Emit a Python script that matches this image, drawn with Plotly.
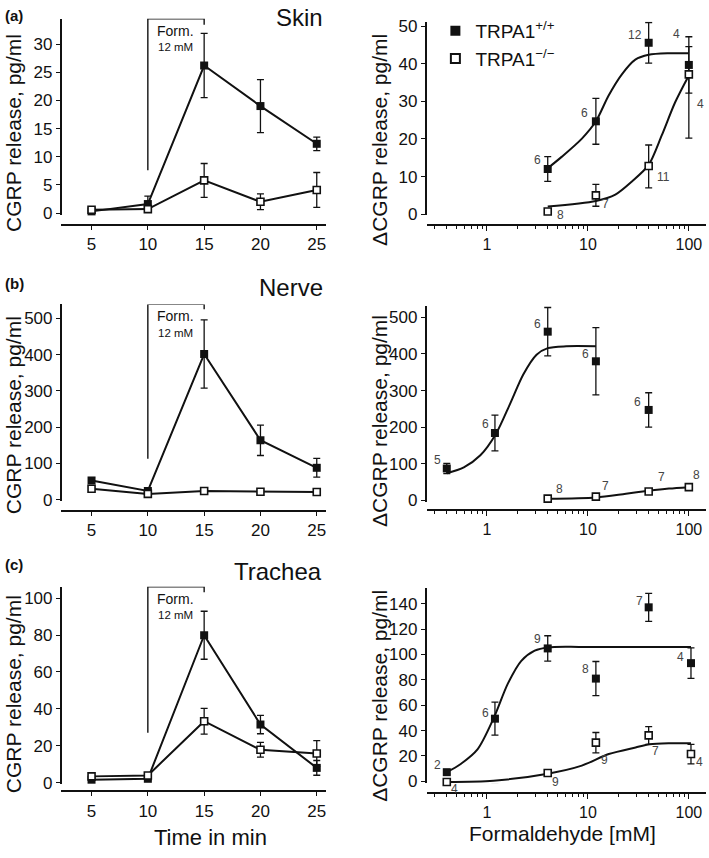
import math
import plotly.graph_objects as go

W, H = 709, 858
FONT = "Arial, Liberation Sans, sans-serif"
INK = "#111111"

# ---------------- data ----------------
time_min = [5, 10, 15, 20, 25]

skin_wt = [0.3, 1.6, 26.2, 19.0, 12.3]
skin_wt_err = [0.2, 1.4, 5.7, 4.7, 1.2]
skin_ko = [0.6, 0.7, 5.8, 2.0, 4.1]
skin_ko_err = [0.3, 0.4, 3.0, 1.4, 3.1]

nerve_wt = [53, 24, 402, 164, 88]
nerve_wt_err = [8, 5, 94, 42, 26]
nerve_ko = [30, 16, 24, 22, 21]
nerve_ko_err = [4, 3, 5, 4, 4]

trach_wt = [1.6, 2.1, 79.9, 31.5, 8.0]
trach_wt_err = [0.5, 0.8, 13, 5, 4]
trach_ko = [3.4, 3.9, 33.3, 17.8, 15.8]
trach_ko_err = [0.8, 0.8, 7, 4, 7]

form_start, form_end = 10, 15

skin_conc = [4, 12, 40, 100]
skin_wt_d = [12.0, 24.7, 45.6, 39.7]
skin_wt_d_err = [3.3, 6.1, 5.4, 7.5]
skin_ko_d = [0.7, 5.0, 12.8, 37.2]
skin_ko_d_err_up = [0.3, 2.9, 5.6, 7.4]
skin_ko_d_err_dn = [0.3, 2.9, 5.8, 17.0]
skin_wt_n = [6, 6, 12, 4]
skin_ko_n = [8, 7, 11, 4]

nerve_conc_wt = [0.4, 1.2, 4, 12, 40]
nerve_wt_d = [87, 184, 461, 380, 247]
nerve_wt_d_err = [14, 49, 66, 92, 47]
nerve_conc_ko = [4, 12, 40, 100]
nerve_ko_d = [4.5, 10, 24, 36]
nerve_ko_d_err = [2, 3, 4, 4]
nerve_wt_n = [5, 6, 6, 6, 6]
nerve_ko_n = [8, 7, 7, 8]

trach_conc = [0.4, 1.2, 4, 12, 40, 105]
trach_wt_d = [7.2, 49.4, 104.8, 81, 137.2, 93.2]
trach_wt_d_err = [1.5, 13, 10, 13.5, 11, 12]
trach_ko_d = [-0.5, -3.9, 6.5, 30.5, 36.2, 21.5]
trach_ko_d_err = [1, 1.5, 1.5, 8, 7, 7.7]
trach_wt_n = [2, 6, 9, 8, 7, 4]
trach_ko_n = [4, 4, 9, 9, 7, 4]

# fitted curves
skin_fit_wt_x = [4, 5.53, 8.72, 12, 16, 21.7, 29.5, 40, 63, 100]
skin_fit_wt_y = [12.2, 15.3, 20.1, 24.7, 31.5, 37.2, 41.1, 42.4, 42.8, 42.8]
skin_fit_ko_x = [4, 12, 18.7, 27.3, 40, 54, 73, 100]
skin_fit_ko_y = [2.0, 3.5, 5.2, 8.7, 13.1, 21, 29.7, 36.9]
nerve_fit_wt_x = [0.4, 0.59, 0.86, 1.23, 1.69, 2.29, 3.1, 4, 6.1, 12]
nerve_fit_wt_y = [74, 90, 123, 182, 263, 344, 398, 416, 421, 421]
nerve_fit_ko_x = [4, 12, 23.8, 40, 63.5, 100]
nerve_fit_ko_y = [4.5, 8, 18, 26, 32, 36]
trach_fit_wt_x = [0.4, 0.55, 0.81, 1.16, 1.61, 2.19, 2.97, 4, 8.7, 105]
trach_fit_wt_y = [7.2, 13.7, 25.4, 49.4, 77, 95, 103, 105.6, 106, 106]
trach_fit_ko_x = [0.4, 1.16, 4, 8.7, 16.1, 29.7, 41, 64, 105]
trach_fit_ko_y = [-0.5, 0.5, 6, 12.4, 21.5, 26.7, 29.2, 30, 30]

# ---------------- layout geometry (pixels) ----------------
def xdom(a, b):
    return [a / W, b / W]

def ydom(top, bot):
    return [1 - bot / H, 1 - top / H]

LEFT_X = (61, 326)
LEFT_XRANGE = [2.28, 25.78]
RIGHT_X = (428, 707)
RIGHT_XRANGE = [-0.59, 2.17]

panels = {
    1: dict(xd=LEFT_X, xr=LEFT_XRANGE, yd=(15, 214), yr=[-0.3, 34.5], xpos=224, ypos=61, dt=5, log=False),
    2: dict(xd=RIGHT_X, xr=RIGHT_XRANGE, yd=(18, 214.5), yr=[-0.3, 51.2], xpos=224, ypos=426.5, dt=10, log=True),
    3: dict(xd=LEFT_X, xr=LEFT_XRANGE, yd=(305, 505), yr=[-4.6, 539], xpos=514.3, ypos=61, dt=100, log=False),
    4: dict(xd=RIGHT_X, xr=RIGHT_XRANGE, yd=(306.7, 505.8), yr=[-5, 531], xpos=513.3, ypos=426.5, dt=100, log=True),
    5: dict(xd=LEFT_X, xr=LEFT_XRANGE, yd=(591.7, 792.5), yr=[-1, 106.2], xpos=799.3, ypos=61, dt=20, log=False),
    6: dict(xd=RIGHT_X, xr=RIGHT_XRANGE, yd=(593.3, 791.2), yr=[-1.5, 152.2], xpos=800.7, ypos=426.5, dt=20, log=True),
}

fig = go.Figure()

def ax(n, kind):
    s = "" if n == 1 else str(n)
    return kind + s

def add_series(n, x, y, err, filled, err_minus=None):
    ey = dict(type="data", array=err, visible=True, color=INK, thickness=1.3, width=3.5)
    if err_minus is not None:
        ey["symmetric"] = False
        ey["arrayminus"] = err_minus
    fig.add_trace(go.Scatter(
        x=x, y=y, mode="markers", xaxis=ax(n, "x"), yaxis=ax(n, "y"),
        error_y=ey, cliponaxis=False, showlegend=False,
        marker=dict(symbol="square", size=8 if filled else 7,
                    color=INK if filled else "white",
                    line=dict(color=INK, width=0 if filled else 1.6)),
    ))

def add_line(n, x, y, spline=False):
    fig.add_trace(go.Scatter(
        x=x, y=y, mode="lines", xaxis=ax(n, "x"), yaxis=ax(n, "y"),
        line=dict(color=INK, width=2, shape="spline" if spline else "linear", smoothing=0.8),
        showlegend=False, hoverinfo="skip",
    ))

# time-course panels
for n, wt, wte, ko, koe in [
    (1, skin_wt, skin_wt_err, skin_ko, skin_ko_err),
    (3, nerve_wt, nerve_wt_err, nerve_ko, nerve_ko_err),
    (5, trach_wt, trach_wt_err, trach_ko, trach_ko_err),
]:
    add_line(n, time_min, wt)
    add_line(n, time_min, ko)
    add_series(n, time_min, wt, wte, True)
    add_series(n, time_min, ko, koe, False)

# formaldehyde application brackets
brackets = {1: (7.6, 33.45), 3: (113, 525.8), 5: (27, 103.2)}
for n, (low, tick_end) in brackets.items():
    top = panels[n]["yr"][1]
    fig.add_trace(go.Scatter(
        x=[form_start, form_start, form_end, form_end], y=[low, top, top, tick_end],
        mode="lines", xaxis=ax(n, "x"), yaxis=ax(n, "y"),
        line=dict(color=INK, width=1.4), showlegend=False, hoverinfo="skip", cliponaxis=False,
    ))
    mid = (form_start + form_end) / 2
    fig.add_annotation(x=mid, y=top, xref=ax(n, "x"), yref=ax(n, "y"), text="Form.",
                       showarrow=False, yshift=-12, font=dict(size=14, color=INK, family=FONT))
    fig.add_annotation(x=mid, y=top, xref=ax(n, "x"), yref=ax(n, "y"), text="12 mM",
                       showarrow=False, yshift=-28.5, font=dict(size=11.5, color=INK, family=FONT))

# concentration-response panels
add_line(2, skin_fit_wt_x, skin_fit_wt_y, True)
add_line(2, skin_fit_ko_x, skin_fit_ko_y, True)
add_series(2, skin_conc, skin_wt_d, skin_wt_d_err, True)
add_series(2, skin_conc, skin_ko_d, skin_ko_d_err_up, False, skin_ko_d_err_dn)

add_line(4, nerve_fit_wt_x, nerve_fit_wt_y, True)
add_line(4, nerve_fit_ko_x, nerve_fit_ko_y, True)
add_series(4, nerve_conc_wt, nerve_wt_d, nerve_wt_d_err, True)
add_series(4, nerve_conc_ko, nerve_ko_d, nerve_ko_d_err, False)

add_line(6, trach_fit_wt_x, trach_fit_wt_y, True)
add_line(6, trach_fit_ko_x, trach_fit_ko_y, True)
add_series(6, trach_conc, trach_wt_d, trach_wt_d_err, True)
add_series(6, trach_conc, trach_ko_d, trach_ko_d_err, False)

# n labels (pixel offsets from each point)
n_label_sets = [
    (2, skin_conc, skin_wt_d, skin_wt_n, [(-10, 9), (-11, 8), (-14, 8), (-12, 31)]),
    (2, skin_conc, skin_ko_d, skin_ko_n, [(13, -4), (10, -9), (15, -11), (12, -30)]),
    (4, nerve_conc_wt, nerve_wt_d, nerve_wt_n, [(-9, 8), (-9, 9), (-10, 8), (-10, 7), (-11, 8)]),
    (4, nerve_conc_ko, nerve_ko_d, nerve_ko_n, [(12, 10), (10, 11), (13, 15), (8, 12)]),
    (6, trach_conc, trach_wt_d, trach_wt_n, [(-9, 7), (-9, 6), (-10, 9), (-10, 10), (-9, 6), (-10, 6)]),
    (6, trach_conc, trach_ko_d, trach_ko_n, [(8, -7), (10, -1), (8, -9), (9, -17), (7, -16), (9, -8)]),
]
for n, xs, ys, ns, offs in n_label_sets:
    for xv, yv, nv, (dx, dy) in zip(xs, ys, ns, offs):
        fig.add_annotation(x=math.log10(xv), y=yv, xref=ax(n, "x"), yref=ax(n, "y"),
                           text=str(nv), showarrow=False, xshift=dx, yshift=dy,
                           font=dict(size=12, color="#444444", family=FONT))

# legend entries
fig.add_trace(go.Scatter(x=[None], y=[None], mode="markers", xaxis="x2", yaxis="y2",
                         name="TRPA1<sup>+/+</sup>",
                         marker=dict(symbol="square", size=10, color=INK)))
fig.add_trace(go.Scatter(x=[None], y=[None], mode="markers", xaxis="x2", yaxis="y2",
                         name="TRPA1<sup>−/−</sup>",
                         marker=dict(symbol="square", size=9, color="white", line=dict(color=INK, width=2))))

# axes
layout = {}
for n, p in panels.items():
    s = "" if n == 1 else str(n)
    xa = dict(domain=xdom(*p["xd"]), anchor="free", position=1 - p["xpos"] / H,
              showline=True, linecolor=INK, linewidth=2, ticks="outside", ticklen=4,
              tickwidth=1.3, tickcolor=INK, showgrid=False, zeroline=False,
              tickfont=dict(size=17, color=INK, family=FONT))
    if p["log"]:
        xa.update(type="log", range=p["xr"], tickvals=[1, 10, 100], ticktext=["1", "10", "100"],
                  ticklen=5, tickfont=dict(size=16, color=INK, family=FONT),
                  minor=dict(ticks="outside", ticklen=3, tickwidth=1.2, tickcolor=INK,
                             dtick="D1", showgrid=False))
    else:
        xa.update(range=p["xr"], tickvals=time_min)
    ya = dict(domain=ydom(*p["yd"]), range=p["yr"], anchor="free", position=p["ypos"] / W,
              showline=True, linecolor=INK, linewidth=2, ticks="outside", ticklen=4,
              tickwidth=1.3, tickcolor=INK, showgrid=False, zeroline=False, dtick=p["dt"], tick0=0,
              tickfont=dict(size=17, color=INK, family=FONT))
    layout["xaxis" + s] = xa
    layout["yaxis" + s] = ya

fig.update_layout(**layout)

def pann(text, xpx, ypx, size, angle=0, xanchor="center"):
    fig.add_annotation(x=xpx / W, y=1 - ypx / H, xref="paper", yref="paper", text=text,
                       showarrow=False, textangle=angle, xanchor=xanchor, yanchor="middle",
                       font=dict(size=size, color=INK, family=FONT))

# y titles
for ypx in (131, 417.5, 700.8):
    pann("CGRP release, pg/ml", 13, ypx, 21, angle=-90)
for ypx in (137.5, 423, 702):
    pann("ΔCGRP release, pg/ml", 380, ypx, 21, angle=-90)
# x titles
pann("Time in min", 211, 846.5, 22)
pann("Formaldehyde [mM]", 563, 842.5, 21)
# panel letters and tissue names
pann("<b>(a)</b>", 3, 12, 15, xanchor="left")
pann("<b>(b)</b>", 3, 284, 15, xanchor="left")
pann("<b>(c)</b>", 3, 569, 15, xanchor="left")
pann("Skin", 325, 14, 24, xanchor="right")
pann("Nerve", 325, 288, 24, xanchor="right")
pann("Trachea", 324, 576, 24, xanchor="right")

fig.update_layout(
    width=W, height=H, margin=dict(l=0, r=0, t=0, b=0),
    paper_bgcolor="white", plot_bgcolor="rgba(0,0,0,0)",
    font=dict(family=FONT, color=INK),
    showlegend=True,
    legend=dict(x=436 / W, y=1 - 8 / H, xanchor="left", yanchor="top",
                bgcolor="rgba(0,0,0,0)", font=dict(size=19, color=INK, family=FONT),
                itemsizing="trace", tracegroupgap=0),
)

fig.write_html("out.html", config={"displayModeBar": False},
               post_script="document.body.style.margin='0px'; document.body.style.overflow='hidden';")
